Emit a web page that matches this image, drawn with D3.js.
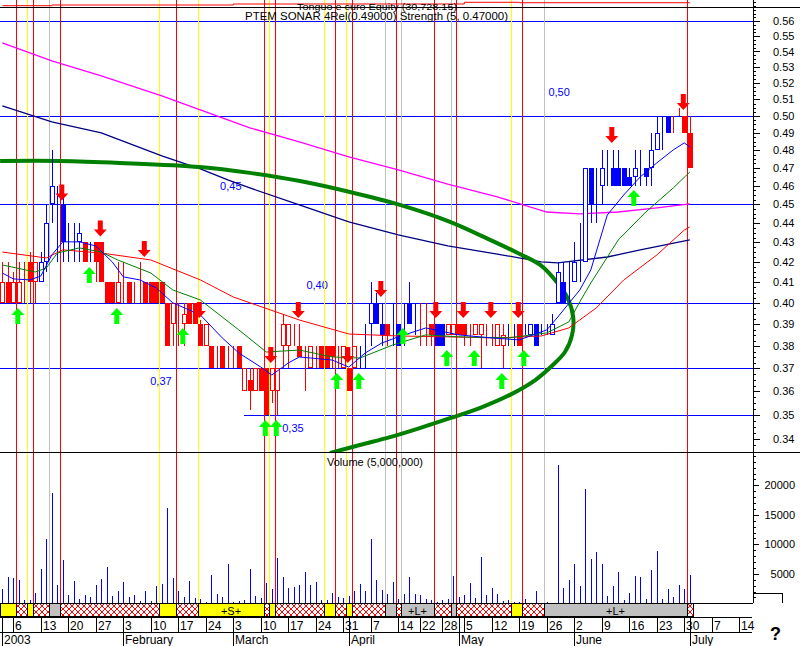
<!DOCTYPE html>
<html><head><meta charset="utf-8">
<script src="https://cdn.jsdelivr.net/npm/d3@7/dist/d3.min.js"></script>
<style>body{margin:0;background:#fff}svg{display:block;font-family:Arial,"Liberation Sans",sans-serif}</style>
</head><body><svg id="c" width="800" height="646"></svg>
<script>
// ---------- DATA ----------
const holidays = ["2003-01-01","2003-04-18","2003-04-21","2003-05-01"];
const monthNames = ["2003","February","March","April","May","June","July"];
const openP  = [.40,.41,.40,.40,.41,.42,.41,.41,.42,.45,.45,.45,.43,.43,.43,.43,.43,.43,.43,.41,.41,.40,.41,.41,.405,.41,.41,.41,.41,.41,
 .40,.39,.39,.39,.40,.40,.39,.38,.38,.375,.38,.375,.375,.38,.36,.365,.36,.37,.37,.36,.36,.38,.38,.385,.38,.375,.37,.375,.38,.38,
 .38,.375,.37,.37,.37,.375,.38,.39,.40,.39,.39,.39,.39,.39,.40,.39,.39,.39,.39,.39,.39,.385,.385,.39,.39,.385,.385,.385,.385,.385,
 .38,.38,.385,.385,.39,.385,.385,.39,.385,.385,.385,.40,.41,.41,.41,.42,.42,.47,.46,.46,.47,.47,.47,.47,.465,.465,.47,.47,.47,.48,
 .49,.50,.495,.50,.50,.49];
const highP  = [.42,.42,.415,.42,.42,.425,.42,.425,.45,.48,.46,.455,.44,.44,.44,.43,.43,.43,.43,.41,.41,.42,.42,.41,.41,.42,.41,.41,.41,.41,
 .40,.40,.40,.40,.40,.40,.392,.39,.38,.38,.38,.38,.38,.38,.37,.37,.37,.37,.37,.37,.37,.395,.39,.39,.39,.38,.38,.38,.38,.38,
 .38,.38,.38,.37,.38,.38,.39,.41,.405,.40,.39,.40,.39,.40,.41,.40,.40,.40,.39,.39,.39,.39,.39,.39,.39,.39,.39,.39,.39,.39,
 .39,.39,.39,.39,.39,.39,.39,.39,.39,.39,.395,.42,.42,.42,.43,.44,.47,.47,.47,.48,.48,.48,.48,.47,.47,.48,.48,.47,.49,.50,
 .50,.50,.50,.505,.50,.50];
const lowP   = [.40,.40,.40,.40,.40,.40,.40,.41,.415,.44,.42,.42,.42,.42,.42,.42,.42,.41,.41,.40,.40,.40,.40,.40,.40,.40,.40,.40,.40,.40,
 .38,.38,.38,.38,.39,.39,.38,.38,.37,.37,.37,.37,.37,.37,.36,.352,.36,.36,.35,.355,.35,.37,.37,.38,.375,.36,.37,.37,.37,.37,
 .37,.37,.37,.36,.37,.37,.37,.38,.39,.38,.38,.38,.38,.38,.39,.385,.38,.38,.38,.38,.38,.385,.385,.385,.38,.38,.385,.37,.38,.38,
 .38,.37,.38,.38,.38,.385,.385,.38,.385,.385,.385,.40,.40,.40,.41,.41,.42,.44,.44,.45,.46,.46,.46,.46,.46,.46,.46,.46,.46,.48,
 .48,.49,.49,.50,.49,.47];
const closeP = [.41,.40,.41,.41,.41,.41,.42,.42,.44,.46,.45,.43,.43,.43,.435,.42,.43,.42,.41,.40,.40,.41,.41,.40,.405,.41,.40,.40,.40,.40,
 .38,.40,.39,.395,.39,.39,.38,.39,.37,.375,.37,.375,.375,.37,.37,.36,.37,.36,.35,.37,.37,.39,.39,.385,.375,.375,.38,.375,.37,.37,
 .375,.375,.38,.36,.38,.375,.38,.40,.39,.385,.385,.39,.38,.39,.39,.39,.39,.39,.385,.38,.38,.39,.39,.385,.385,.385,.39,.39,.385,.385,
 .39,.385,.385,.385,.38,.385,.39,.38,.385,.385,.39,.415,.40,.41,.42,.42,.47,.45,.46,.47,.47,.46,.46,.46,.46,.47,.47,.465,.48,.49,
 .49,.49,.495,.50,.49,.47];
const barColor = "rrrrrrrbbbbbbbbrbrrrrrrrrrrrrrrrrrrrrrrrrrrrrrrrrrrrrrrrrrrrrrrrrbbbbbrbbbbbrrrbbrrrrrrrrrrrbbrbbbbbbbbbbbbbbbbbbbbbbbbbbb".split("");
const volume = [2430,4460,4350,3960,570,570,1750,5880,10900,18700,3110,7340,1410,3790,730,1410,1070,3110,4120,6160,
 1240,2090,3620,1070,1410,400,2090,400,2940,3280,16160,4290,2090,1070,3790,900,730,230,4800,1580,
 1070,6670,230,400,570,5820,1240,900,3450,2430,7680,4460,2600,2770,3110,5310,3110,3620,570,570,
 1750,1070,900,1240,2090,3280,2090,10900,3960,2260,1580,3620,730,1580,4460,1580,1410,730,570,300,
 570,730,4630,1070,1410,3450,900,7850,1410,2600,1580,400,570,230,230,730,100,2090,100,230,
 100,23450,2600,3960,6670,2940,19380,7510,8700,6670,1240,2940,5310,570,1750,4630,4460,730,5650,8870,
 730,2430,1070,3110,2430,4800];
// moving averages (sampled trading-day index / price)
const maFastIdx = [0,2,5,7,9,11,14,17,20,22,25,28,31,34,36,40,43,47,49,52,54,60,63,66,69,72,77,83,89,94,99,101,105,107,110,113,116,119,122,124,125];
const maFastVal = [.4146,.4117,.4112,.4131,.4236,.4303,.4303,.4282,.4201,.4127,.4112,.4073,.4001,.3967,.3944,.3837,.3769,.3706,.3671,.3724,.3751,.3737,.3706,.3769,.3814,.3842,.3883,.3851,.3837,.3828,.3874,.3934,.4063,.4161,.4443,.4551,.465,.4728,.4802,.4842,.4819];
const maMidIdx = [0,6,8,10,14,18,21,27,31,36,43,48,54,60,65,71,77,83,92,99,103,105,107,112,117,122,125];
const maMidVal = [.4186,.4151,.4171,.4246,.4272,.4251,.4211,.4146,.4063,.4015,.3874,.3773,.3782,.3751,.3746,.3805,.3851,.3842,.3837,.386,.3911,.4006,.4097,.4313,.4459,.4589,.4677];
const maSlowIdx = [0,8,11,18,27,36,42,54,63,72,81,90,98,103,108,113,119,124,125];
const maSlowVal = [.4251,.4221,.4262,.4246,.4211,.4112,.4029,.392,.3855,.3846,.3842,.3837,.3846,.3883,.3977,.4112,.4236,.4364,.438];
const ma100Idx = [0,9,18,29,36,41,45,54,63,72,81,90,98,101,110,116,125];
const ma100Val = [.5061,.4965,.49,.4768,.4694,.4633,.4589,.4497,.4407,.4339,.4282,.4241,.4201,.4196,.4226,.4262,.4313];
const ma200Idx = [0,9,18,29,36,45,54,63,72,81,90,99,105,112,119,125];
const ma200Val = [.5456,.534,.5245,.5122,.5037,.493,.4848,.4762,.4689,.461,.454,.4459,.4449,.4459,.4481,.4502];
const arcIdx = [-0.4,10.5,21.4,35.9,45,54.1,63.2,72.3,81.4,88.7,94.1,97.8,100.5,102.7,103.8,103.6,102.3,100.1,96.9,92.3,86.9,81.4,75.9,70.5,65,59.6];
const arcVal = [.4739,.4739,.4728,.4705,.4672,.4627,.4567,.4497,.4407,.4313,.4241,.4186,.4112,.4029,.3934,.3851,.3773,.3715,.3649,.3585,.353,.3487,.3446,.3409,.3377,.3345];
// signals
const sellIdx = [11,18,26,36,49,54,63,69,79,84,89,94,111,124];
const sellTip = [.452,.433,.4226,.3929,.3724,.3929,.3724,.4029,.3929,.3929,.3929,.3929,.4842,.5036];
const buyIdx  = [3,16,21,33,48,50,61,65,73,81,86,91,95,115];
const buyTip  = [.3976,.4176,.3976,.3883,.3479,.3479,.368,.368,.3883,.3782,.3782,.368,.3782,.4578];
// support / resistance levels
const levelVal = [0.56,0.50,0.45,0.40,0.37,0.35];
const levelFrom = [-1,-1,-1,-1,-1,44];
const levelText = ["","0,50","0,45","0,40","0,37","0,35"];
const levelTextIdx = [0,99.3,39.6,55.3,26.9,50.9];
const levelTextBelow = [false,false,false,false,true,true];
// regime strip
const segStart = [0,3,5,6,9,11,29,32,36,48,49,50,59,61,63,64,70,72,73,79,82,83,93,95,99,125];
const segType  = ["Y","H","Y","H","G","H","Y","H","Y","H","Y","H","Y","H","Y","H","G","H","G","H","G","H","Y","H","G","H"];
const segLabel = {8:"+S+",18:"+L+",24:"+L+"};
// equity
const eqIdx = [0,9,42,84,94,125];
const eqVal = [30430,30500,30600,30770,30728,30728];
const priceTicks = d3.range(34,57).map(d=>d/100);
const volTicks = [5000,10000,15000,20000];

// ---------- trading-day calendar ----------
const days=[]; {let d=new Date(2003,0,2); while(days.length<140){const dw=d.getDay(); const s=d3.timeFormat("%Y-%m-%d")(d);
 if(dw!==0&&dw!==6&&!holidays.includes(s)) days.push(new Date(d)); d.setDate(d.getDate()+1);} }

// ---------- SCALES ----------
const svg=d3.select("#c");
const x=d3.scaleLinear().domain([0,125]).range([2.3,689.8]);
const y=d3.scaleLog().domain([0.35,0.56]).range([415,21]);
const yv=d3.scaleLinear().domain([0,25000]).range([603.3,455.8]);
const yeq=d3.scaleLinear().domain([30000,31000]).range([10,0]);
const PR=752, AX=753;
const RED="#ff0000", BLUE="#0000ff", YEL="#ffff00", GREY="#c0c0c0";

const defs=svg.append("defs");
const pat=defs.append("pattern").attr("id","hatch").attr("width",6).attr("height",6).attr("patternUnits","userSpaceOnUse");
pat.append("rect").attr("width",6).attr("height",6).attr("fill","#fff");
pat.append("path").attr("d","M0,0L6,6M6,0L0,6M-1,5L1,7M5,-1L7,1").attr("stroke",RED).attr("stroke-width",1);
defs.append("clipPath").attr("id","pc").append("rect").attr("x",0).attr("y",8).attr("width",PR).attr("height",444);

// strip
const segEnd=i=> i<segStart.length-1? segStart[i+1]:126;
const sx=i=>Math.max(0,Math.round(x(i-0.5)));
const strip=svg.append("g").attr("shape-rendering","crispEdges");
segStart.forEach((s,i)=>{
  const x0=sx(s), x1=sx(segEnd(i));
  strip.append("rect").attr("x",x0+0.5).attr("y",603.5).attr("width",x1-x0).attr("height",13)
   .attr("fill",segType[i]==="Y"?YEL:segType[i]==="G"?GREY:"url(#hatch)").attr("stroke","#000");
  if(segLabel[i]) svg.append("text").attr("x",(x0+x1)/2).attr("y",614.5).attr("text-anchor","middle").attr("font-size",11).text(segLabel[i]);
});

// levels
const lev=svg.append("g").attr("shape-rendering","crispEdges");
levelVal.forEach((v,i)=>{
  const yy=Math.round(y(v))+0.5;
  lev.append("line").attr("x1",levelFrom[i]<0?0:x(levelFrom[i])).attr("x2",AX).attr("y1",yy).attr("y2",yy).attr("stroke",BLUE);
  if(levelText[i]) svg.append("text").attr("x",x(levelTextIdx[i])).attr("y",levelTextBelow[i]?yy+16:(i===1?yy-21:yy-15)).attr("font-size",11).attr("fill",BLUE).text(levelText[i]);
});

// vertical regime lines
const vl=svg.append("g").attr("shape-rendering","crispEdges");
segStart.forEach((s,i)=>{ if(s===0) return; const xx=sx(s)+0.5;
  vl.append("line").attr("x1",xx).attr("x2",xx).attr("y1",0).attr("y2",603).attr("stroke",segType[i]==="Y"?YEL:segType[i]==="G"?GREY:RED);
});

const pg=svg.append("g").attr("clip-path","url(#pc)");
const lineOf=(idx,val)=>d3.line().x((d,i)=>x(idx[i])).y(d=>y(d))(val);
pg.append("path").attr("d",lineOf(ma200Idx,ma200Val)).attr("fill","none").attr("stroke","#ff00ff").attr("stroke-width",1.3);
pg.append("path").attr("d",lineOf(ma100Idx,ma100Val)).attr("fill","none").attr("stroke","#000080").attr("stroke-width",1.3);
pg.append("path").attr("d",d3.line().curve(d3.curveCatmullRom).x((d,i)=>x(arcIdx[i])).y(d=>y(d))(arcVal)).attr("fill","none").attr("stroke","#008000").attr("stroke-width",4);

// candles
const cg=pg.append("g").attr("shape-rendering","crispEdges");
openP.forEach((o,i)=>{
  const c=closeP[i], col=barColor[i]==="b"?BLUE:RED, cx=Math.round(x(i))+0.5;
  cg.append("line").attr("x1",cx).attr("x2",cx).attr("y1",y(highP[i])).attr("y2",y(lowP[i])).attr("stroke",col);
  if(o!==c){
    const t=Math.round(y(Math.max(o,c))), b=Math.round(y(Math.min(o,c)));
    if(c<o) cg.append("rect").attr("x",cx-2.5).attr("y",t).attr("width",5).attr("height",b-t).attr("fill",col);
    else cg.append("rect").attr("x",cx-2).attr("y",t+0.5).attr("width",4).attr("height",b-t-1).attr("fill","#fff").attr("stroke",col);
  }
});
pg.append("path").attr("d",lineOf(maSlowIdx,maSlowVal)).attr("fill","none").attr("stroke",RED).attr("stroke-width",1);
pg.append("path").attr("d",lineOf(maMidIdx,maMidVal)).attr("fill","none").attr("stroke","#008000").attr("stroke-width",1);
pg.append("path").attr("d",lineOf(maFastIdx,maFastVal)).attr("fill","none").attr("stroke",BLUE).attr("stroke-width",1);

// arrows
sellIdx.forEach((d,i)=>{const cx=x(d)-1, t=y(sellTip[i]);
  pg.append("path").attr("d",`M${cx-2.5},${t-16}H${cx+2.5}V${t-7}H${cx+6.5}L${cx},${t}L${cx-6.5},${t-7}H${cx-2.5}Z`).attr("fill",RED);});
buyIdx.forEach((d,i)=>{const cx=x(d)-1, t=y(buyTip[i]);
  pg.append("path").attr("d",`M${cx-2.5},${t+16}H${cx+2.5}V${t+7}H${cx+6.5}L${cx},${t}L${cx-6.5},${t+7}H${cx-2.5}Z`).attr("fill","#00ff00");});

// equity line
svg.append("path").attr("d",d3.line().curve(d3.curveStepAfter).x((d,i)=>x(eqIdx[i])).y(d=>yeq(d))(eqVal)).attr("fill","none").attr("stroke",RED);

// volume
const vg=svg.append("g").attr("shape-rendering","crispEdges");
volume.forEach((v,i)=>{ const cx=Math.round(x(i)); vg.append("rect").attr("x",cx).attr("y",yv(v)).attr("width",1).attr("height",yv(0)-yv(v)).attr("fill",BLUE);});

// frames
const fr=svg.append("g").attr("shape-rendering","crispEdges").attr("stroke","#000");
fr.append("line").attr("x1",0).attr("x2",800).attr("y1",7.5).attr("y2",7.5);
fr.append("line").attr("x1",0).attr("x2",800).attr("y1",452.5).attr("y2",452.5);
fr.append("line").attr("x1",0).attr("x2",AX).attr("y1",603.5).attr("y2",603.5);
fr.append("line").attr("x1",AX+0.5).attr("x2",AX+0.5).attr("y1",0).attr("y2",603);
fr.append("line").attr("x1",0).attr("x2",PR).attr("y1",617.5).attr("y2",617.5);
fr.append("line").attr("x1",0).attr("x2",PR).attr("y1",632.5).attr("y2",632.5);
fr.append("path").attr("d","M753.5,593.5H782.5V603").attr("fill","none");

// price axis
const minorP=d3.range(3350,5751,25).map(d=>d/10000);
const pa=svg.append("g").attr("transform",`translate(${AX},0)`).attr("shape-rendering","crispEdges");
minorP.forEach(v=>{const yy=Math.round(y(v))+0.5; pa.append("line").attr("x1",0).attr("x2",3).attr("y1",yy).attr("y2",yy).attr("stroke","#000");});
pa.call(d3.axisRight(y).tickValues(priceTicks).tickSize(7).tickPadding(13).tickFormat(d3.format(".2f")));
pa.select(".domain").remove();
pa.selectAll("text").attr("font-size",11).attr("font-family","Arial,'Liberation Sans',sans-serif");
// volume axis
const va=svg.append("g").attr("transform",`translate(${AX},0)`).attr("shape-rendering","crispEdges");
d3.range(1000,25001,1000).forEach(v=>{const yy=Math.round(yv(v))+0.5; va.append("line").attr("x1",0).attr("x2",3).attr("y1",yy).attr("y2",yy).attr("stroke","#000");});
va.call(d3.axisRight(yv).tickValues(volTicks).tickSize(6).tickPadding(36).tickFormat(d3.format("d")));
va.select(".domain").remove();
va.selectAll("text").attr("text-anchor","end").attr("font-size",11).attr("font-family","Arial,'Liberation Sans',sans-serif");

// date axis
const dg=svg.append("g").attr("shape-rendering","crispEdges");
const wk=d=>d3.timeMonday.floor(d).getTime();
days.forEach((d,i)=>{
  if(i>134) return;
  const xx=Math.round(x(i))+0.5;
  const monthStart = i===0 || d.getMonth()!==days[i-1].getMonth();
  const weekStart = i>0 && wk(d)!==wk(days[i-1]);
  if(weekStart||monthStart) dg.append("line").attr("x1",xx).attr("x2",xx).attr("y1",617).attr("y2",632).attr("stroke","#000");
  if(weekStart) svg.append("text").attr("x",xx+1.5).attr("y",630).attr("font-size",12).text(d.getDate());
  if(monthStart){ dg.append("line").attr("x1",xx).attr("x2",xx).attr("y1",632).attr("y2",646).attr("stroke","#000");
    svg.append("text").attr("x",xx+1.5).attr("y",644).attr("font-size",12).text(monthNames[d.getMonth()]);}
});

// titles
svg.append("text").attr("x",297).attr("y",10).attr("font-size",9.5).attr("textLength",160).attr("lengthAdjust","spacingAndGlyphs").text("Tonguo e curo Equity (30,728.15)");
svg.append("text").attr("x",245).attr("y",20).attr("font-size",10).attr("textLength",263).attr("lengthAdjust","spacingAndGlyphs").text("PTEM SONAR 4Rel(0.49000) Strength (5, 0.47000)");
svg.append("text").attr("x",327).attr("y",466).attr("font-size",11).text("Volume (5,000,000)");
svg.append("text").attr("x",770).attr("y",640).attr("font-size",18).attr("font-weight","bold").text("?");
</script></body></html>
